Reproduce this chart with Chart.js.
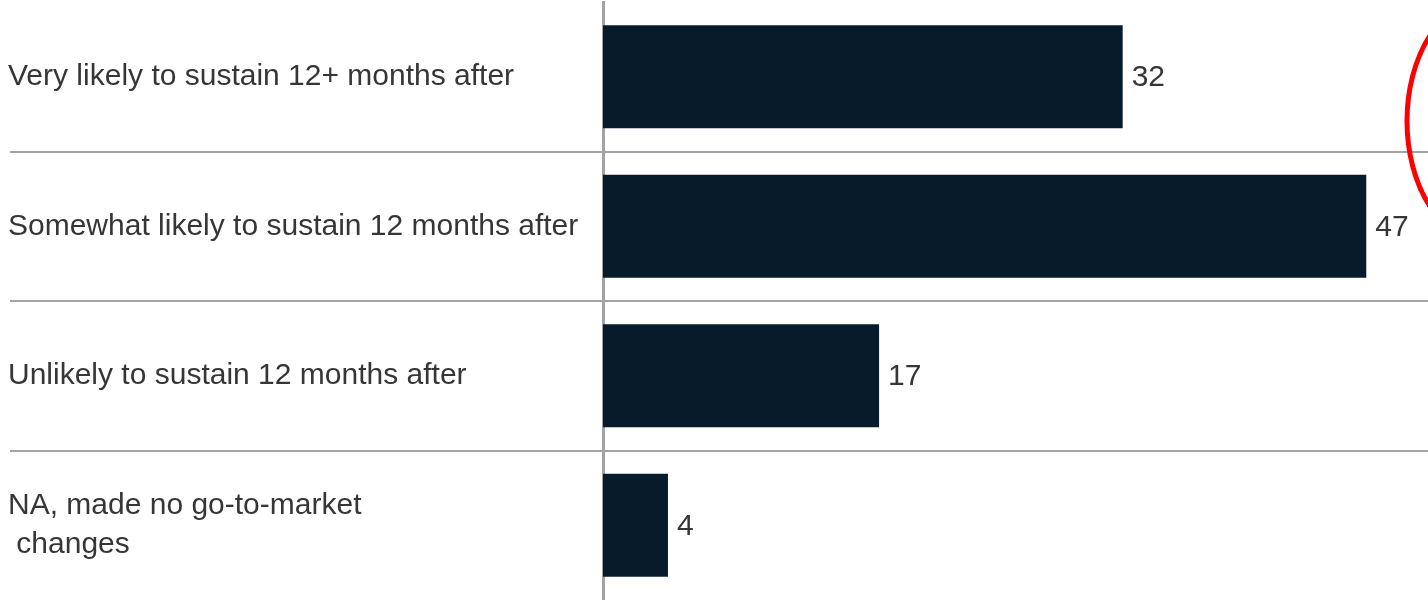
<!DOCTYPE html>
<html>
<head>
<meta charset="utf-8">
<script src="https://cdn.jsdelivr.net/npm/chart.js@4"></script>
<style>
  html, body { margin: 0; padding: 0; background: #fff; }
  #wrap { width: 1428px; height: 600px; }
</style>
</head>
<body>
<div id="wrap"><canvas id="plot"></canvas></div>
<script>
// Data
const categories = [
    'Very likely to sustain 12+ months after',
    'Somewhat likely to sustain 12 months after',
    'Unlikely to sustain 12 months after',
    ['NA, made no go-to-market', ' changes']
];
const values = [32, 47, 17, 4];

const barColor = '#081b2a';
const textColor = '#363636';
const lineColor = '#a3a3a3';

// value labels right of each bar
const valueLabels = {
    id: 'valueLabels',
    afterDatasetsDraw(chart) {
        const ctx = chart.ctx;
        const meta = chart.getDatasetMeta(0);
        ctx.save();
        ctx.font = '30px "Liberation Sans", Arial, sans-serif';
        ctx.fillStyle = textColor;
        ctx.textAlign = 'left';
        ctx.textBaseline = 'middle';
        meta.data.forEach((bar, i) => {
            ctx.fillText(values[i], bar.x + 9, bar.y + 1);
        });
        ctx.restore();
    }
};

// red hand-drawn circle on the right edge
const redCircle = {
    id: 'redCircle',
    afterDraw(chart) {
        const ctx = chart.ctx;
        ctx.save();
        ctx.strokeStyle = '#ff0000';
        ctx.lineWidth = 5;
        ctx.beginPath();
        ctx.ellipse(chart.width + 59, 121, 80, 122, 0, 0, Math.PI * 2);
        ctx.stroke();
        ctx.restore();
    }
};

const ctx = document.getElementById('plot');
let plot = new Chart(ctx, {
    type: 'bar',
    data: {
        labels: categories,
        datasets: [{
            data: values,
            backgroundColor: barColor,
            borderWidth: 0,
            categoryPercentage: 1,
            barPercentage: 0.69
        }]
    },
    options: {
        indexAxis: 'y',
        responsive: true,
        maintainAspectRatio: false,
        animation: false,
        layout: { padding: { left: 8, top: 2, right: 0, bottom: 0 } },
        plugins: {
            legend: { display: false },
            tooltip: { enabled: false }
        },
        scales: {
            x: {
                display: false,
                min: 0,
                max: 50.8
            },
            y: {
                afterFit: (scale) => {
                    scale.width = 595;
                    scale.paddingTop = 0;
                    scale.paddingBottom = 0;
                },
                border: { display: true, color: lineColor, width: 3 },
                grid: {
                    offset: true,
                    drawOnChartArea: true,
                    drawTicks: true,
                    tickLength: 593,
                    lineWidth: 2,
                    color: (c) => (c.index >= 1 && c.index <= 3) ? lineColor : 'rgba(0,0,0,0)'
                },
                ticks: {
                    crossAlign: 'far',
                    padding: 0,
                    color: textColor,
                    font: { family: '"Liberation Sans", Arial, sans-serif', size: 30, lineHeight: 1.27 }
                }
            }
        }
    },
    plugins: [valueLabels, redCircle]
});
</script>
</body>
</html>
